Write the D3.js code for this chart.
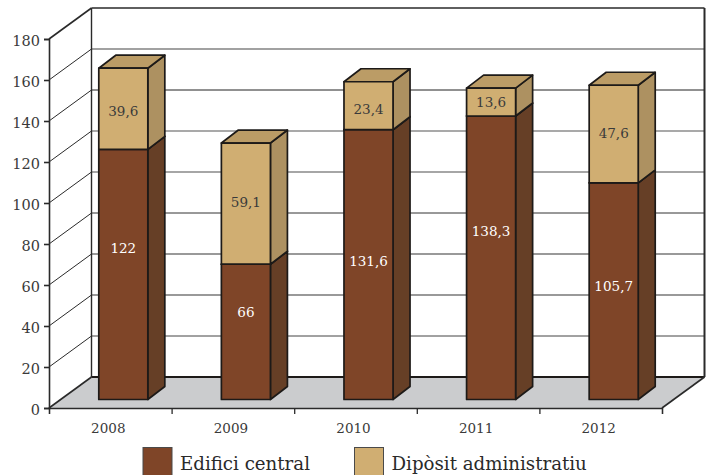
<!DOCTYPE html>
<html>
<head>
<meta charset="utf-8">
<script src="https://cdn.jsdelivr.net/npm/d3@7"></script>
<style>
    html, body { margin: 0; padding: 0; background: #fff; }
    text { font-family: "DejaVu Serif", serif; fill: #3a3a3a; }
</style>
</head>
<body>
<div id="chart"></div>
<script>
const years = ["2008", "2009", "2010", "2011", "2012"]
const edifici = [122, 66, 131.6, 138.3, 105.7]
const diposit = [39.6, 59.1, 23.4, 13.6, 47.6]
const seriesNames = ["Edifici central", "Dipòsit administratiu"]
const yTicks = [0, 20, 40, 60, 80, 100, 120, 140, 160, 180]

// Graph dimension
const width = 710, height = 475
const plot = { left: 49, right: 662, top: 39, bottom: 408 }
const wall = { dx: 42.5, dy: -31 }    // depth of the floor
const depth = { dx: 17, dy: -13 }     // depth of one bar
const shift = { dx: 13, dy: -8.5 }    // bar position inside the floor

// labels are not centred in the original, nudge them by hand (px, per bar)
const edificiNudge = [-26, -20, -3, -27, -5]
const dipositNudge = [2, -1, 3, 0, -1]

const line = "#2a2a2a"
const colors = {
    brown: { front: "#7f4528", side: "#663f26", top: "#6f4226" },
    tan: { front: "#d0ae72", side: "#ad9161", top: "#bb9c66" }
}
// the back wall lines come out uneven in the original
const backStroke = d3.scaleOrdinal()
    .domain([0, 20, 40, 60, 80, 100, 120, 140, 160, 180])
    .range(["#1d1a18", "#444", "#777", "#777", "#333", "#888", "#555", "#222", "#444", "#2a2a2a"])
const backWidth = d3.scaleOrdinal()
    .domain([0, 20, 40, 60, 80, 100, 120, 140, 160, 180])
    .range([2.2, 1, 1.3, 1.3, 1, 1.5, 1.2, 1, 1.1, 1.6])

const svg = d3.select("#chart").append("svg")
    .attr("width", width)
    .attr("height", height)
    .style("display", "block")

const y = d3.scaleLinear().domain([0, 180]).range([plot.bottom, plot.top])
const x = d3.scaleBand().domain(years).range([plot.left, plot.right]).paddingInner(0.6).paddingOuter(0.3)
const xEdges = d3.scaleLinear().domain([0, years.length]).range([plot.left, plot.right])

function comma(v) { return String(v).replace(".", ",") }
function poly(points) { return points.map(p => p.join(",")).join(" ") }

// floor
svg.append("polygon")
    .attr("points", poly([
        [plot.left, plot.bottom],
        [plot.left + wall.dx, plot.bottom + wall.dy],
        [plot.right + wall.dx, plot.bottom + wall.dy],
        [plot.right, plot.bottom]
    ]))
    .attr("fill", "#cbccce")

// grid on the left wall and the back wall
const grid = svg.append("g")
grid.selectAll(".diag").data(yTicks).join("line")
    .attr("x1", plot.left)
    .attr("y1", d => y(d))
    .attr("x2", plot.left + wall.dx)
    .attr("y2", d => y(d) + wall.dy)
    .attr("stroke", line)
    .attr("stroke-width", d => d == 0 || d == 180 ? 1.6 : 1)
grid.selectAll(".back").data(yTicks).join("line")
    .attr("x1", plot.left + wall.dx)
    .attr("y1", d => y(d) + wall.dy)
    .attr("x2", plot.right + wall.dx)
    .attr("y2", d => y(d) + wall.dy)
    .attr("stroke", d => backStroke(d))
    .attr("stroke-width", d => backWidth(d))

// wall verticals
grid.append("line")
    .attr("x1", plot.left + wall.dx).attr("x2", plot.left + wall.dx)
    .attr("y1", y(0) + wall.dy).attr("y2", y(180) + wall.dy)
    .attr("stroke", line).attr("stroke-width", 1.4)
grid.append("line")
    .attr("x1", plot.right + wall.dx).attr("x2", plot.right + wall.dx)
    .attr("y1", y(0) + wall.dy).attr("y2", y(180) + wall.dy)
    .attr("stroke", line).attr("stroke-width", 2)
grid.append("line")
    .attr("x1", plot.right).attr("x2", plot.right + wall.dx)
    .attr("y1", y(0)).attr("y2", y(0) + wall.dy)
    .attr("stroke", line).attr("stroke-width", 1.6)

// one box of a stacked bar
function box(g, year, from, to, color, label, labelColor, nudge) {
    const x0 = x(year) + shift.dx
    const x1 = x0 + x.bandwidth()
    const y0 = y(from) + shift.dy
    const y1 = y(to) + shift.dy

    const faces = [
        { fill: color.side, pts: [[x1, y0], [x1 + depth.dx, y0 + depth.dy], [x1 + depth.dx, y1 + depth.dy], [x1, y1]] },
        { fill: color.top, pts: [[x0, y1], [x0 + depth.dx, y1 + depth.dy], [x1 + depth.dx, y1 + depth.dy], [x1, y1]] },
        { fill: color.front, pts: [[x0, y0], [x1, y0], [x1, y1], [x0, y1]] }
    ]
    g.selectAll(null).data(faces).join("polygon")
        .attr("points", d => poly(d.pts))
        .attr("fill", d => d.fill)
        .attr("stroke", "#1d1a18")
        .attr("stroke-width", 1.7)
        .attr("stroke-linejoin", "round")

    g.append("text")
        .attr("x", (x0 + x1) / 2)
        .attr("y", (y0 + y1) / 2 + nudge)
        .attr("dy", "0.36em")
        .attr("text-anchor", "middle")
        .style("font-size", "13.5px")
        .style("fill", labelColor)
        .text(comma(label))
}

years.forEach(function (year, i) {
    const g = svg.append("g")
    box(g, year, 0, edifici[i], colors.brown, edifici[i], "#fff", edificiNudge[i])
    box(g, year, edifici[i], edifici[i] + diposit[i], colors.tan, diposit[i], "#3a3a3a", dipositNudge[i])
})

// axes
const yAxis = svg.append("g")
    .attr("transform", `translate(${plot.left},0)`)
    .call(d3.axisLeft(y).tickValues(yTicks).tickSize(5).tickPadding(4))
yAxis.selectAll("text").style("font-size", "14.5px").attr("font-family", null).attr("dy", "0.45em")
yAxis.selectAll("line, path").attr("stroke", line).attr("stroke-width", 1.6)

const xAxis = svg.append("g")
    .attr("transform", `translate(0,${plot.bottom})`)
    .call(d3.axisBottom(xEdges).ticks(years.length).tickSize(6).tickSizeOuter(6).tickFormat(""))
xAxis.selectAll("line, path").attr("stroke", line).attr("stroke-width", 1.3)

svg.append("g").selectAll("text").data(years).join("text")
    .attr("x", d => x(d) + x.bandwidth() / 2 - 2)
    .attr("y", 433)
    .attr("text-anchor", "middle")
    .style("font-size", "13.5px")
    .text(d => d)

// legend
const legendX = [143, 354.5]
const legend = svg.append("g").selectAll("g").data(seriesNames).join("g")
    .attr("transform", (d, i) => `translate(${legendX[i]},447.5)`)
legend.append("rect")
    .attr("width", 29)
    .attr("height", 29)
    .attr("fill", (d, i) => i == 0 ? colors.brown.front : colors.tan.front)
    .attr("stroke", "#4a4a4a")
    .attr("stroke-width", 1)
legend.append("text")
    .attr("x", 37)
    .attr("y", 22.5)
    .style("font-size", "18.2px")
    .style("fill", "#2a2a2a")
    .text(d => d)
</script>
</body>
</html>
